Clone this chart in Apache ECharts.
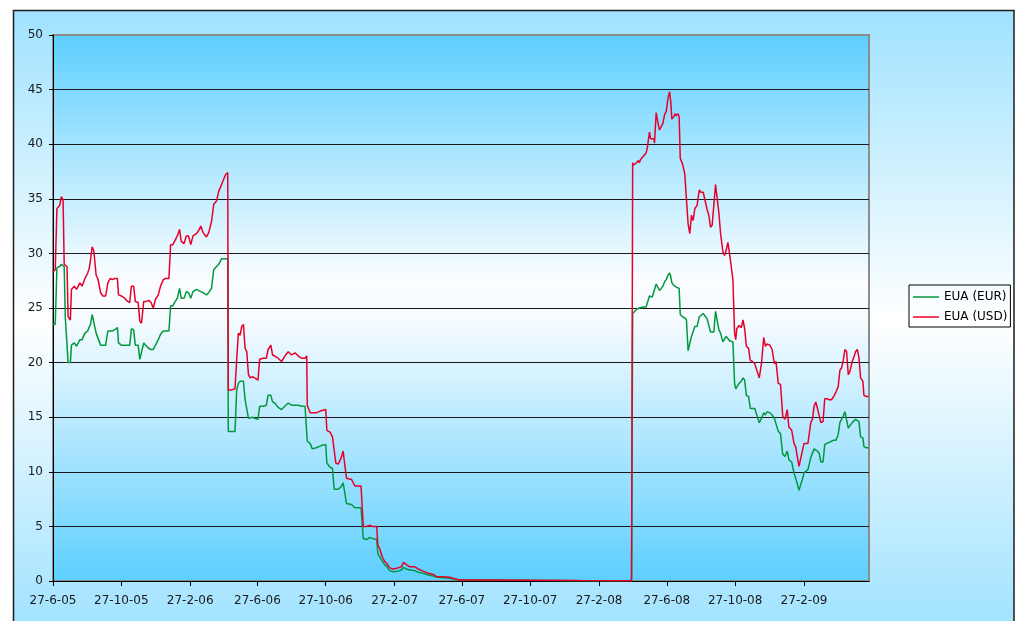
<!DOCTYPE html>
<html>
<head>
<meta charset="utf-8">
<title>EUA (EUR) / EUA (USD)</title>
<script src="https://cdn.jsdelivr.net/npm/echarts@6/dist/echarts.min.js"></script>
<style>
  html, body { margin: 0; padding: 0; background: #ffffff; }
  #chart { width: 1019px; height: 621px; }
</style>
</head>
<body>
<div id="chart"></div>
<script>
// Observation dates shared by both price series
const dates = [
  '2005-06-27','2005-07-01','2005-07-04','2005-07-09','2005-07-12','2005-07-15','2005-07-17','2005-07-19','2005-07-22','2005-07-24',
  '2005-07-28','2005-07-30','2005-08-04','2005-08-08','2005-08-14','2005-08-18','2005-08-23','2005-08-28','2005-08-31','2005-09-02',
  '2005-09-05','2005-09-08','2005-09-12','2005-09-15','2005-09-20','2005-09-24','2005-09-29','2005-10-03','2005-10-07','2005-10-11',
  '2005-10-15','2005-10-20','2005-10-22','2005-10-27','2005-11-02','2005-11-07','2005-11-11','2005-11-14','2005-11-18','2005-11-21',
  '2005-11-26','2005-11-29','2005-12-02','2005-12-06','2005-12-11','2005-12-15','2005-12-19','2005-12-23','2005-12-27','2006-01-01',
  '2006-01-05','2006-01-10','2006-01-14','2006-01-20','2006-01-23','2006-01-27','2006-01-30','2006-02-04','2006-02-08','2006-02-11',
  '2006-02-16','2006-02-20','2006-02-24','2006-02-28','2006-03-04','2006-03-10','2006-03-13','2006-03-18','2006-03-22','2006-03-28',
  '2006-04-01','2006-04-06','2006-04-10','2006-04-15','2006-04-19','2006-04-24','2006-04-27','2006-05-01','2006-05-05','2006-05-06',
  '2006-05-12','2006-05-18','2006-05-21','2006-05-24','2006-05-27','2006-05-30','2006-06-02','2006-06-05','2006-06-08','2006-06-11',
  '2006-06-14','2006-06-18','2006-06-22','2006-06-28','2006-07-01','2006-07-07','2006-07-13','2006-07-16','2006-07-21','2006-07-24',
  '2006-07-28','2006-08-03','2006-08-09','2006-08-15','2006-08-21','2006-08-27','2006-09-02','2006-09-08','2006-09-14','2006-09-20',
  '2006-09-23','2006-09-24','2006-09-29','2006-10-03','2006-10-10','2006-10-19','2006-10-27','2006-10-29','2006-11-04','2006-11-08',
  '2006-11-11','2006-11-14','2006-11-18','2006-11-23','2006-11-27','2006-11-30','2006-12-03','2006-12-12','2006-12-18','2006-12-29',
  '2007-01-02','2007-01-08','2007-01-14','2007-01-18','2007-01-26','2007-01-28','2007-01-31','2007-02-05','2007-02-09','2007-02-13',
  '2007-02-18','2007-02-24','2007-03-05','2007-03-11','2007-03-15','2007-03-20','2007-03-26','2007-04-04','2007-04-10','2007-04-19',
  '2007-04-28','2007-05-07','2007-05-13','2007-05-25','2007-06-05','2007-06-14','2007-06-23','2007-07-29','2007-10-26','2008-01-24',
  '2008-04-25','2008-04-27','2008-04-29','2008-05-01','2008-05-04','2008-05-07','2008-05-09','2008-05-11','2008-05-16','2008-05-21',
  '2008-05-23','2008-05-27','2008-05-29','2008-06-01','2008-06-04','2008-06-05','2008-06-08','2008-06-11','2008-06-14','2008-06-17',
  '2008-06-20','2008-06-23','2008-06-26','2008-06-29','2008-07-02','2008-07-04','2008-07-06','2008-07-09','2008-07-12','2008-07-14',
  '2008-07-17','2008-07-19','2008-07-21','2008-07-25','2008-07-29','2008-08-01','2008-08-04','2008-08-07','2008-08-10','2008-08-13',
  '2008-08-16','2008-08-20','2008-08-24','2008-08-27','2008-08-31','2008-09-03','2008-09-07','2008-09-10','2008-09-13','2008-09-16',
  '2008-09-19','2008-09-22','2008-09-25','2008-09-28','2008-10-01','2008-10-05','2008-10-08','2008-10-11','2008-10-14','2008-10-17',
  '2008-10-20','2008-10-23','2008-10-26','2008-10-28','2008-10-30','2008-11-03','2008-11-07','2008-11-10','2008-11-13','2008-11-16',
  '2008-11-20','2008-11-23','2008-11-27','2008-12-01','2008-12-04','2008-12-09','2008-12-13','2008-12-17','2008-12-20','2008-12-23',
  '2008-12-28','2009-01-01','2009-01-05','2009-01-08','2009-01-12','2009-01-16','2009-01-20','2009-01-24','2009-01-28','2009-01-31',
  '2009-02-05','2009-02-09','2009-02-12','2009-02-15','2009-02-18','2009-02-21','2009-02-24','2009-02-27','2009-03-02','2009-03-06',
  '2009-03-11','2009-03-14','2009-03-17','2009-03-20','2009-03-23','2009-03-26','2009-03-29','2009-04-02','2009-04-05','2009-04-09',
  '2009-04-13','2009-04-17','2009-04-21','2009-04-25','2009-04-29','2009-05-02','2009-05-05','2009-05-08','2009-05-11','2009-05-14',
  '2009-05-17','2009-05-20','2009-05-24','2009-05-27','2009-05-30','2009-06-02','2009-06-05','2009-06-08','2009-06-12','2009-06-14',
  '2009-06-18','2009-06-22'
];

// EUA price in EUR
const eurValues = [
  23.5,23.5,28.7,28.8,29.0,29.0,28.8,24.1,24.0,20.0,
  20.0,21.6,21.8,21.5,22.1,22.1,22.7,22.9,23.3,23.5,
  24.4,24.4,22.7,22.7,21.6,21.6,21.6,22.9,22.9,22.9,
  23.0,23.2,21.8,21.6,21.6,21.6,21.6,23.1,23.0,21.6,
  21.6,20.3,20.2,21.8,21.5,21.3,21.2,21.2,21.6,22.1,
  22.6,22.9,22.9,22.9,25.2,25.2,25.5,25.9,26.8,25.9,
  25.9,26.5,26.4,25.9,26.5,26.7,26.7,26.5,26.4,26.2,
  26.4,26.8,28.5,28.8,29.0,29.5,29.5,29.5,29.5,13.7,
  13.7,13.7,17.5,18.1,18.3,18.3,18.3,16.6,16.6,14.9,
  15.0,15.0,14.9,14.8,16.0,16.0,16.1,17.0,17.0,16.4,
  16.3,15.9,15.7,16.0,16.3,16.1,16.1,16.1,16.0,16.0,
  16.0,12.8,12.6,12.1,12.2,12.4,12.5,10.8,10.4,10.3,
  8.4,8.4,8.4,8.6,9.0,9.0,7.1,7.0,6.7,6.7,
  3.9,3.8,4.0,3.9,3.8,2.5,2.5,1.8,1.5,1.3,
  0.95,0.85,0.9,1.0,1.25,1.1,1.0,0.95,0.8,0.7,
  0.55,0.45,0.35,0.3,0.25,0.15,0.1,0.1,0.06,0.03,
  0.02,24.5,24.6,24.7,24.9,25.0,25.0,25.0,25.1,25.1,
  25.1,26.1,26.0,26.0,26.0,26.0,27.2,27.3,26.6,26.6,
  27.0,27.4,27.6,28.0,28.2,27.9,27.3,27.1,27.0,26.9,
  26.8,26.8,24.4,24.2,24.1,23.9,21.1,21.1,22.4,22.4,
  23.3,23.3,24.2,24.1,24.5,24.5,24.0,24.0,22.8,22.7,
  22.8,24.7,24.7,23.0,22.7,21.9,21.9,22.4,22.5,22.0,
  21.9,21.9,18.1,17.6,17.6,18.1,18.3,18.6,18.4,17.0,
  16.9,15.8,15.8,15.8,15.7,14.5,14.9,15.4,15.2,15.5,
  15.4,15.2,14.9,14.8,13.7,13.5,11.6,11.4,11.9,11.1,
  10.9,9.9,9.9,8.9,8.3,8.4,9.3,9.9,10.0,10.2,
  11.3,11.4,12.1,12.1,11.9,11.7,10.9,10.9,12.5,12.6,
  12.7,12.8,12.9,12.9,13.4,14.5,14.5,15.1,15.5,15.4,
  14.0,14.0,14.5,14.6,14.8,14.9,14.6,13.2,13.1,12.3,
  12.2,12.2
];

// EUA price in USD
const usdValues = [
  28.3,28.5,34.1,34.4,35.2,34.9,29.0,29.1,28.8,24.2,
  23.9,26.7,27.0,26.7,27.3,27.0,27.7,28.2,28.7,29.4,
  30.6,30.2,28.0,27.7,26.4,26.1,26.1,27.3,27.7,27.6,
  27.7,27.7,26.2,26.1,25.9,25.6,25.5,27.0,27.0,25.6,
  25.5,23.8,23.6,25.6,25.6,25.7,25.5,25.0,25.8,26.2,
  27.0,27.6,27.7,27.7,30.8,30.8,31.1,31.6,32.2,31.1,
  30.9,31.6,31.6,30.8,31.6,31.8,32.0,32.5,31.9,31.5,
  31.9,32.9,34.5,34.8,35.7,36.3,36.7,37.2,37.4,17.5,
  17.5,17.6,20.3,22.7,22.5,23.3,23.5,21.3,21.0,18.9,
  18.6,18.7,18.6,18.4,20.3,20.4,20.4,21.2,21.6,20.7,
  20.6,20.4,20.1,20.6,21.0,20.7,20.9,20.6,20.4,20.4,
  20.6,16.1,15.4,15.4,15.4,15.6,15.7,13.8,13.6,13.2,
  13.2,10.8,10.7,11.2,11.9,11.9,9.4,9.3,8.7,8.7,
  5.0,5.0,5.1,5.0,5.0,3.3,3.0,2.2,1.8,1.6,
  1.2,1.1,1.2,1.3,1.7,1.5,1.3,1.3,1.1,0.9,
  0.7,0.6,0.4,0.4,0.35,0.2,0.1,0.1,0.08,0.04,
  0.02,38.3,38.1,38.0,38.3,38.5,38.3,38.6,38.9,39.2,
  39.6,41.1,40.5,40.4,40.5,40.1,42.9,42.0,41.3,41.3,
  41.9,42.7,43.0,44.2,44.8,43.9,42.3,42.5,42.8,42.6,
  42.8,42.5,38.7,38.2,37.3,37.2,32.7,31.8,33.5,33.0,
  34.1,34.4,35.8,35.6,35.6,35.5,34.0,33.5,32.4,32.6,
  32.7,36.3,36.2,33.7,31.8,30.2,29.8,30.3,31.0,30.0,
  28.8,27.6,22.7,22.1,23.1,23.4,23.2,23.9,23.1,21.5,
  21.3,20.2,20.1,19.9,19.8,18.6,19.9,22.3,21.5,21.7,
  21.6,21.2,19.9,20.1,18.1,18.0,15.1,14.8,15.7,14.1,
  13.8,12.6,12.3,11.4,10.5,10.5,11.9,12.6,12.5,12.6,
  14.5,14.8,16.0,16.4,15.8,15.7,14.5,14.6,16.7,16.7,
  16.6,16.6,16.9,17.3,17.8,19.3,19.5,20.2,21.2,21.0,
  18.9,19.2,20.1,20.5,21.0,21.2,20.5,18.6,18.3,17.0,
  16.9,16.9
];

const seriesNames = ['EUA (EUR)', 'EUA (USD)'];
const tickDates = [
  '2005-06-27','2005-10-27','2006-02-27','2006-06-27','2006-10-27','2007-02-27',
  '2007-06-27','2007-10-27','2008-02-27','2008-06-27','2008-10-27','2009-02-27'
];
const axisStart = '2005-06-27';
const axisEnd = '2009-06-23';

const FONT = 'DejaVu Sans';

function toTime(s) {
  const p = s.split('-').map(Number);
  return new Date(p[0], p[1] - 1, p[2]).getTime();
}
function formatTick(v) {
  const d = new Date(v);
  return d.getDate() + '-' + (d.getMonth() + 1) + '-' + String(d.getFullYear()).slice(2);
}

const tickTimes = tickDates.map(toTime);
const eurData = dates.map((d, i) => [toTime(d), eurValues[i]]);
const usdData = dates.map((d, i) => [toTime(d), usdValues[i]]);

const chart = echarts.init(document.getElementById('chart'), null, { renderer: 'canvas' });

chart.setOption({
  animation: false,
  backgroundColor: '#ffffff',
  graphic: [{
    type: 'rect',
    z: -100,
    silent: true,
    shape: { x: 13.5, y: 10.5, width: 1000.5, height: 620 },
    style: {
      fill: {
        type: 'linear', x: 0, y: 0, x2: 0, y2: 1,
        colorStops: [
          { offset: 0, color: '#9fe2ff' },
          { offset: 0.5, color: '#ffffff' },
          { offset: 1, color: '#9fe2ff' }
        ]
      },
      stroke: '#1c1c1c',
      lineWidth: 1.5
    }
  }],
  grid: {
    left: 53, top: 35, width: 816, height: 546,
    show: true,
    containLabel: false,
    outerBoundsMode: 'none',
    borderColor: '#8c8c8c',
    borderWidth: 2,
    backgroundColor: {
      type: 'linear', x: 0, y: 0, x2: 0, y2: 1,
      colorStops: [
        { offset: 0, color: '#5ccfff' },
        { offset: 0.45, color: '#fbfdff' },
        { offset: 0.52, color: '#f6fbff' },
        { offset: 1, color: '#5ccfff' }
      ]
    }
  },
  legend: {
    data: seriesNames,
    orient: 'vertical',
    left: 909, top: 285,
    icon: 'rect',
    itemWidth: 26, itemHeight: 1.5,
    itemGap: 8, itemTextGap: 4,
    padding: [6, 3, 4, 4],
    borderColor: '#000000', borderWidth: 1,
    backgroundColor: 'transparent',
    selectedMode: false,
    textStyle: { fontFamily: FONT, fontSize: 12, color: '#000000' }
  },
  xAxis: {
    type: 'value',
    min: toTime(axisStart),
    max: toTime(axisEnd),
    axisLine: { show: true, onZero: false, lineStyle: { color: '#000000', width: 1 } },
    axisTick: { show: true, length: 5, inside: false, customValues: tickTimes,
                lineStyle: { color: '#000000' } },
    axisLabel: {
      customValues: tickTimes,
      formatter: formatTick,
      margin: 14,
      fontFamily: FONT, fontSize: 12, color: '#1a1a1a'
    },
    splitLine: { show: false },
    minorTick: { show: false }
  },
  yAxis: {
    type: 'value',
    min: 0, max: 50, interval: 5,
    axisLine: { show: true, lineStyle: { color: '#000000', width: 1 } },
    axisTick: { show: true, length: 4, inside: false, lineStyle: { color: '#000000' } },
    axisLabel: { margin: 10, fontFamily: FONT, fontSize: 12, color: '#1a1a1a' },
    splitLine: { show: true, showMaxLine: false, lineStyle: { color: '#1a1a1a', width: 1 } }
  },
  series: [
    {
      name: seriesNames[0], type: 'line', data: eurData,
      showSymbol: false, symbol: 'none', smooth: false,
      color: '#00993d',
      lineStyle: { color: '#00993d', width: 1.5 },
      emphasis: { disabled: true }
    },
    {
      name: seriesNames[1], type: 'line', data: usdData,
      showSymbol: false, symbol: 'none', smooth: false,
      color: '#e8002a',
      lineStyle: { color: '#e8002a', width: 1.5 },
      emphasis: { disabled: true }
    }
  ]
});
</script>
</body>
</html>
